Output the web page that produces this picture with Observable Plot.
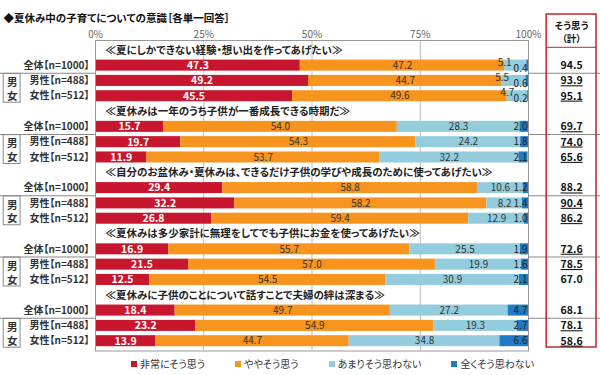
<!DOCTYPE html>
<html><head><meta charset="utf-8">
<script src="https://cdn.jsdelivr.net/npm/d3@7"></script>
<script src="https://cdn.jsdelivr.net/npm/@observablehq/plot@0.6"></script>
<style>
body{margin:0;background:#fff;font-family:"Noto Sans CJK JP","Noto Sans",sans-serif;}
#chart svg{display:block;overflow:visible;font-feature-settings:"palt"}
.ul text{text-decoration:underline}
#legend{display:flex;height:23px;align-items:center;padding-left:131px;font-size:10px;color:#333;font-family:"Noto Sans CJK JP",sans-serif;font-feature-settings:"palt"}
#legend span.item{display:flex;align-items:center;margin-right:30px}
#legend span.sw{display:inline-block;width:6px;height:6px;margin-right:3px}
</style></head>
<body>
<div id="chart"></div>
<div id="legend"></div>
<script>
const title = "◆夏休み中の子育てについての意識［各単一回答］";
const questions = [
  "≪夏にしかできない経験・想い出を作ってあげたい≫",
  "≪夏休みは一年のうち子供が一番成長できる時期だ≫",
  "≪自分のお盆休み・夏休みは、できるだけ子供の学びや成長のために使ってあげたい≫",
  "≪夏休みは多少家計に無理をしてでも子供にお金を使ってあげたい≫",
  "≪夏休みに子供のことについて話すことで夫婦の絆は深まる≫"
];
const groups = ["全体【n=1000】", "男性【n=488】", "女性【n=512】"];
const categories = ["非常にそう思う", "ややそう思う", "あまりそう思わない", "全くそう思わない"];
const colors = ["#c8162e", "#f7941d", "#93cddd", "#1f7bc4"];
const veryMuch = [47.3,49.2,45.5, 15.7,19.7,11.9, 29.4,32.2,26.8, 16.9,21.5,12.5, 18.4,23.2,13.9];
const somewhat = [47.2,44.7,49.6, 54.0,54.3,53.7, 58.8,58.2,59.4, 55.7,57.0,54.5, 49.7,54.9,44.7];
const notMuch  = [5.1,5.5,4.7, 28.3,24.2,32.2, 10.6,8.2,12.9, 25.5,19.9,30.9, 27.2,19.3,34.8];
const notAtAll = [0.4,0.6,0.2, 2.0,1.8,2.1, 1.2,1.4,1.0, 1.9,1.6,2.1, 4.7,2.7,6.6];
const agreeTotal = [94.5,93.9,95.1, 69.7,74.0,65.6, 88.2,90.4,86.2, 72.6,78.5,67.0, 68.1,78.1,58.6];
const underlined = [false,true,true, true,true,true, true,true,true, true,true,false, false,true,true];
const headerTop = "そう思う";
const headerBottom = "（計）";
const genderBox = "男\n女";

const rows = [];
const qRows = [], catRows = [], segs = [], labels = [], totals = [];
questions.forEach((q, qi) => {
  const qk = "Q" + qi;
  rows.push(qk);
  qRows.push({row: qk, text: q});
  groups.forEach((g, gi) => {
    const i = qi * 3 + gi;
    const rk = qk + "-" + gi;
    rows.push(rk);
    catRows.push({row: rk, text: g, q: qi, g: gi});
    const vals = [veryMuch[i], somewhat[i], notMuch[i], notAtAll[i]];
    let acc = 0;
    vals.forEach((v, ci) => {
      const x1 = acc, x2 = Math.min(100, acc + v);
      acc += v;
      segs.push({row: rk, x1, x2, cat: categories[ci]});
      const lab = {row: rk, text: v.toFixed(1), ci, x: (x1 + x2) / 2, pos: "mid"};
      if (ci === 2 && v < 6) { lab.x = x1; lab.pos = "up"; }
      if (ci === 3) { lab.x = 100; lab.pos = vals[2] < 6 ? "enddown" : "end"; }
      labels.push(lab);
    });
    totals.push({row: rk, text: agreeTotal[i].toFixed(1), ul: underlined[i]});
  });
});
const maleRows = catRows.filter(d => d.g === 1);

const step = 15.31;
const chart = Plot.plot({
  width: 600, height: 352,
  marginLeft: 95, marginRight: 72, marginTop: 40, marginBottom: 1.5,
  style: {fontFamily: '"Noto Sans CJK JP", sans-serif', fontSize: "10px", background: "#fff"},
  x: {domain: [0, 100], axis: null},
  y: {domain: rows, padding: 0.28, round: false, axis: null},
  color: {domain: categories, range: colors},
  marks: [
    Plot.gridX([25, 50, 75], {stroke: "#bbb", strokeOpacity: 1}),
    Plot.axisX({anchor: "top", ticks: [0, 25, 50, 75, 100], tickFormat: d => d + "%", tickSize: 0, tickPadding: 3, fill: "#666", fontSize: 10, label: null}),
    Plot.barX(segs, {x1: "x1", x2: "x2", y: "row", fill: "cat"}),
    Plot.frame({stroke: "#999"}),
    // bar labels
    Plot.text(labels.filter(d => d.ci === 0), {x: "x", y: "row", text: "text", fill: "#fff", fontWeight: "bold", fontSize: 10.5}),
    Plot.text(labels.filter(d => d.ci > 0 && d.pos === "mid"), {x: "x", y: "row", text: "text", fill: "#333", fontSize: 10}),
    Plot.text(labels.filter(d => d.pos === "up"), {x: "x", y: "row", text: "text", dy: -3, fill: "#333", fontSize: 10}),
    Plot.text(labels.filter(d => d.pos === "end"), {x: "x", y: "row", text: "text", dx: -1, textAnchor: "end", fill: "#222", fontSize: 10}),
    Plot.text(labels.filter(d => d.pos === "enddown"), {x: "x", y: "row", text: "text", dx: -1, dy: 3, textAnchor: "end", fill: "#222", fontSize: 10}),
    // question labels
    Plot.text(qRows, {x: 0, y: "row", text: "text", textAnchor: "start", dx: 10, fill: "#222", fontWeight: "bold", fontSize: 10.5}),
    // category labels
    Plot.text(catRows, {x: 0, y: "row", text: "text", textAnchor: "end", dx: -6, fill: "#333", fontWeight: "bold", fontSize: 10}),
    // gender box
    Plot.barX(maleRows, {x1: -21.2, x2: -17.3, y: "row", fill: "#fff", stroke: "#888", insetTop: -1.5, insetBottom: -(step + 1)}),
    Plot.text(maleRows, {x: -19.25, y: "row", text: () => genderBox, dy: step / 2, fill: "#333", fontWeight: "bold", fontSize: 10.5, lineHeight: 1.3}),
    // separators
    Plot.ruleY(maleRows, {y: "row", x1: -22, x2: 0, dy: -step / 2, stroke: "#888"}),
    Plot.ruleY(maleRows, {y: "row", x1: 100, x2: 117, dy: -step / 2, stroke: "#888"}),
    // right box
    Plot.barX([rows[0]], {x1: 104.2, x2: 115.7, y: d => d, fill: "none", stroke: "#c0272d", strokeWidth: 1.5, insetTop: -30.3, insetBottom: -291.7}),
    Plot.ruleY([rows[0]], {y: d => d, x1: 104.2, x2: 115.7, dy: -3, stroke: "#c0272d"}),
    Plot.text([rows[0]], {x: 109.95, y: d => d, text: () => headerTop, dy: -24.5, fill: "#111", fontWeight: "bold", fontSize: 9.5}),
    Plot.text([rows[0]], {x: 109.95, y: d => d, text: () => headerBottom, dy: -11.5, fill: "#111", fontWeight: "bold", fontSize: 9.5}),
    Plot.text(totals.filter(d => !d.ul), {x: 109.95, y: "row", text: "text", fill: "#111", fontWeight: "bold", fontSize: 10.5}),
    Plot.text(totals.filter(d => d.ul), {x: 109.95, y: "row", text: "text", fill: "#111", fontWeight: "bold", fontSize: 10.5, className: "ul"}),
    // title
    Plot.text([title], {frameAnchor: "top-left", text: d => d, dx: -92, dy: -26, textAnchor: "start", fill: "#111", fontWeight: "bold", fontSize: 10.5})
  ]
});
document.getElementById("chart").appendChild(chart);

const legend = document.getElementById("legend");
categories.forEach((c, i) => {
  const item = document.createElement("span");
  item.className = "item";
  item.innerHTML = `<span class="sw" style="background:${colors[i]}"></span>${c}`;
  legend.appendChild(item);
});
</script>
</body></html>
